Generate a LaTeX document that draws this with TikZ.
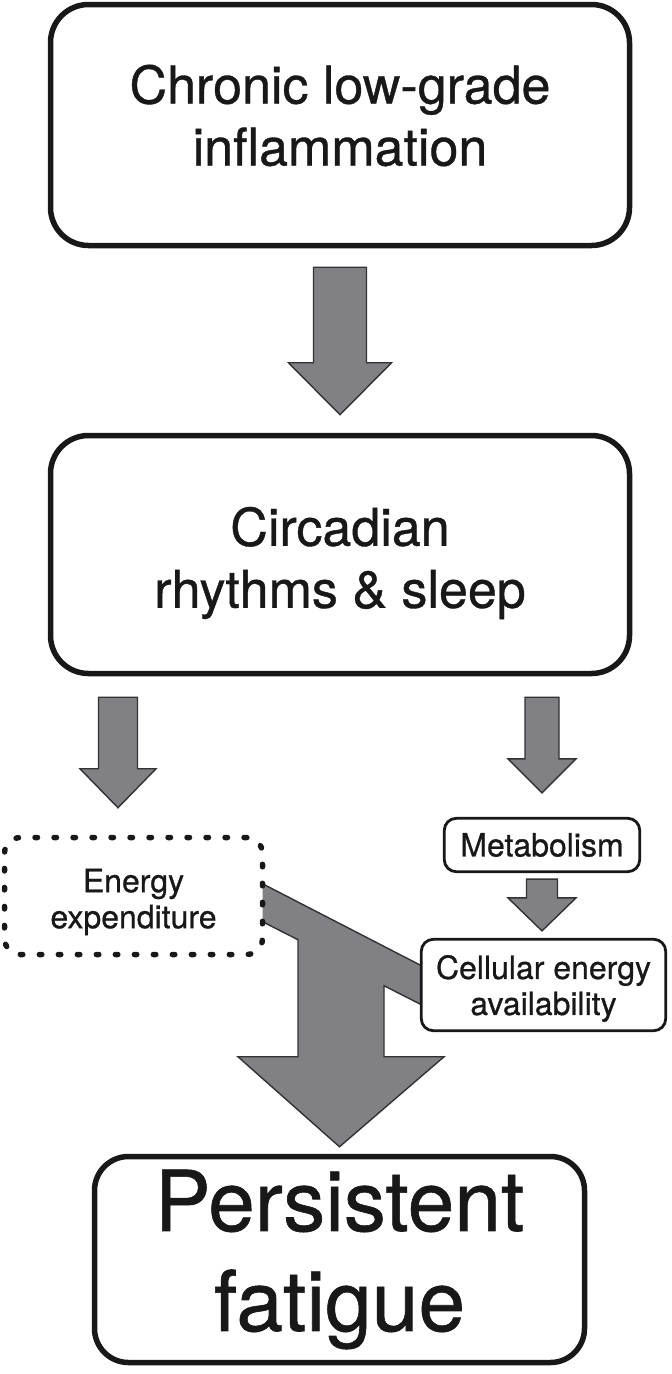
\documentclass[tikz,border=0pt]{standalone}
\usepackage{fontspec}
\setmainfont{TeX Gyre Heros}[FakeBold=0.7]
\usetikzlibrary{calc,backgrounds}
\definecolor{arrowgray}{RGB}{128,128,133}
\definecolor{arrowedge}{RGB}{50,50,53}
\definecolor{ink}{RGB}{24,24,24}
\newcommand{\blockarr}[5]{%
  \draw[blockarrow] let \p1=(#1), \p2=(#2) in
    (\x1-#3pt,\y1) -- (\x1+#3pt,\y1) -- (\x1+#3pt,\y2+#5pt) -- (\x1+#4pt,\y2+#5pt)
    -- (\x1,\y2) -- (\x1-#4pt,\y2+#5pt) -- (\x1-#3pt,\y2+#5pt) -- cycle;}
\begin{document}
\begin{tikzpicture}[x=1pt,y=-1pt,
  bigbox/.style={draw=ink, line width=5.5pt, rounded corners=38pt, fill=white, inner sep=0pt},
  smallbox/.style={draw=ink, line width=2.8pt, rounded corners=12pt, fill=white, inner sep=0pt},
  dotbox/.style={draw=ink, line width=5.5pt, dash pattern=on 2.5pt off 16.5pt, line cap=round, rounded corners=16pt, fill=white, inner sep=0pt},
  bigtext/.style={font=\fontsize{52}{62}\selectfont, align=center, inner sep=0pt, text=ink},
  smalltext/.style={font=\fontsize{32}{36}\selectfont, align=center, inner sep=0pt, text=ink},
  hugetext/.style={font=\fontsize{84}{100}\selectfont, align=center, text=ink},
  blockarrow/.style={fill=arrowgray, draw=arrowedge, line width=1.4pt, line join=miter}
]
\useasboundingbox (0,0) rectangle (672,1374);

% boxes
\node[bigbox, minimum width=579pt, minimum height=241pt] (top) at (340,125) {};
\node[bigtext] (toptxt) at (340,115.5) {Chronic low-grade\\inflammation};
\node[bigbox, minimum width=579pt, minimum height=238pt] (mid) at (340,554.5) {};
\node[bigtext] (midtxt) at (340,563) {Circadian\\rhythms \& sleep};
\node[dotbox, minimum width=258pt, minimum height=117pt] (ee) at (133.5,896) {};
\node[smalltext] (eetxt) at (133.5,902) {Energy\\expenditure};
\node[smallbox, smalltext, minimum width=195.4pt, minimum height=53.4pt] (met) at (542,845) {Metabolism};
\node[smallbox, minimum width=244.4pt, minimum height=91.4pt] (cell) at (543.5,985) {};
\node[smalltext] (celltxt) at (543.5,988.5) {Cellular energy\\availability};
\node[bigbox, hugetext, rounded corners=34pt, minimum width=490pt, minimum height=206pt] (pf) at (339.5,1259.5) {Persistent\\fatigue};

% coordinates for connectors
\coordinate (a1s) at ($(top.south)+(0,19)$);
\coordinate (a1t) at ($(mid.north)+(0,-18)$);
\coordinate (a2s) at ($(mid.south)+(-222,21)$);
\coordinate (a2t) at ($(ee.north)+(0,-27)$);
\coordinate (a3s) at ($(mid.south -| met.north)+(0,21)$);
\coordinate (a3t) at ($(met.north)+(0,-24)$);
\coordinate (a4s) at ($(met.south)+(0,6)$);
\coordinate (a4t) at ($(cell.north)+(0,-7)$);

\coordinate (B1) at ($(ee.east)+(-10,-16)$);
\coordinate (B11) at ($(ee.east)+(-10,22)$);
\coordinate (B2) at ($(cell.west)+(6,-17)$);
\coordinate (B3) at ($(cell.west)+(6,22)$);
\coordinate (B7) at ($(pf.north)+(0,-7)$);
\coordinate (B4) at ($(B7)+(44.5,-161)$);
\coordinate (B5) at ($(B7)+(44.5,-90)$);
\coordinate (B6) at ($(B7)+(104.5,-90)$);
\coordinate (B8) at ($(B7)+(-101.5,-90)$);
\coordinate (B9) at ($(B7)+(-41.5,-90)$);
\coordinate (B10) at ($(B7)+(-41.5,-207)$);

\begin{scope}[on background layer]
  \fill[white] (0,0) rectangle (672,1374);
  \blockarr{a1s}{a1t}{26.5}{51.5}{52}
  \blockarr{a2s}{a2t}{19.5}{38}{39}
  \blockarr{a3s}{a3t}{17}{34}{34}
  \blockarr{a4s}{a4t}{15.5}{34}{33}
  \draw[blockarrow] (B1) -- (B2) -- (B3) -- (B4) -- (B5) -- (B6) -- (B7)
    -- (B8) -- (B9) -- (B10) -- (B11) -- cycle;
\end{scope}
\end{tikzpicture}
\end{document}
